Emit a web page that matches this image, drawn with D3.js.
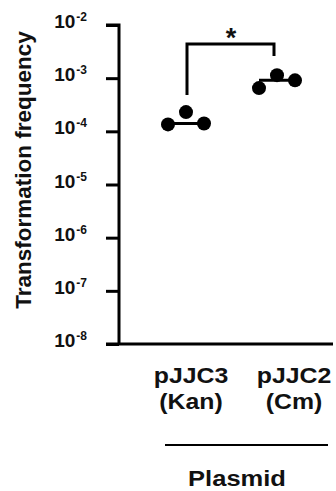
<!DOCTYPE html>
<html><head><meta charset="utf-8">
<script src="https://cdn.jsdelivr.net/npm/d3@7"></script>
<style>body{margin:0;background:#fff}svg{display:block}text{font-family:"Liberation Sans",Arial,sans-serif;font-weight:bold;fill:#111}</style>
</head><body><svg id="c" width="336" height="491"></svg>
<script>
const categories = ["pJJC3\n(Kan)", "pJJC2\n(Cm)"];
const seriesKan = [1.35e-4, 2.3e-4, 1.4e-4];
const seriesCm = [6.5e-4, 1.14e-3, 9.1e-4];
const medians = [1.4e-4, 9.1e-4];
const tickExponents = [-2, -3, -4, -5, -6, -7, -8];
const yTitle = "Transformation frequency";
const xTitle = "Plasmid";
const sigLabel = "*";

const svg = d3.select("#c");
const y = d3.scaleLog().domain([1e-8, 1e-2]).range([344, 25]);
const x = d3.scalePoint().domain(categories).range([186, 277]);
const groups = [seriesKan, seriesCm];
const jitter = [-18, 0, 18];
const labelShift = [5, 17];

// axis
const ax = svg.append("g").attr("transform", "translate(119,0)");
ax.call(d3.axisLeft(y).tickValues(tickExponents.map(e => Math.pow(10, e))).tickSize(13).tickFormat(""));
ax.selectAll("path,line").attr("stroke", "#000").attr("stroke-width", 3);
ax.select(".domain").attr("d", `M-13,${y(1e-2)}H0V${y(1e-8)}`);
// tick labels
tickExponents.forEach(e => {
  const t = svg.append("text").attr("x", 87).attr("y", y(Math.pow(10, e)) + 3).attr("text-anchor", "end").style("font-size", "19px");
  t.append("tspan").text("10");
  t.append("tspan").attr("dy", -7).attr("dx", 1).style("font-size", "12px").text(String(e));
});
// x baseline
svg.append("line").attr("x1", 106).attr("x2", 333).attr("y1", y(1e-8)).attr("y2", y(1e-8)).attr("stroke", "#000").attr("stroke-width", 3);

// points
groups.forEach((g, i) => {
  const cx = x(categories[i]);
  svg.append("line").attr("x1", cx - 18).attr("x2", cx + 18).attr("y1", y(medians[i])).attr("y2", y(medians[i])).attr("stroke", "#000").attr("stroke-width", 3);
  g.forEach((v, j) => svg.append("circle").attr("cx", cx + jitter[j]).attr("cy", y(v)).attr("r", 7).attr("fill", "#000"));
});

// significance bracket
const bTop = 44;
svg.append("path").attr("d", `M${x(categories[0]) + 1},95V${bTop}H${x(categories[1]) - 3}V56`).attr("fill", "none").attr("stroke", "#000").attr("stroke-width", 3);
svg.append("text").attr("x", 231).attr("y", 47).attr("text-anchor", "middle").style("font-size", "27px").text(sigLabel);

// category labels (reference text is slightly wide)
categories.forEach((c, i) => {
  const lines = c.split("\n");
  lines.forEach((l, k) => svg.append("text")
    .attr("transform", `translate(${x(c) + labelShift[i]},${383 + k * 26}) scale(1.13,1)`)
    .attr("text-anchor", "middle").style("font-size", "22px").text(l));
});
svg.append("line").attr("x1", 165).attr("x2", 328).attr("y1", 445).attr("y2", 445).attr("stroke", "#000").attr("stroke-width", 2);
svg.append("text").attr("transform", "translate(237,486) scale(1.16,1)").attr("text-anchor", "middle").style("font-size", "22px").text(xTitle);
svg.append("text").attr("transform", "translate(31,170) rotate(-90)").attr("text-anchor", "middle").style("font-size", "22.5px").text(yTitle);
</script></body></html>
